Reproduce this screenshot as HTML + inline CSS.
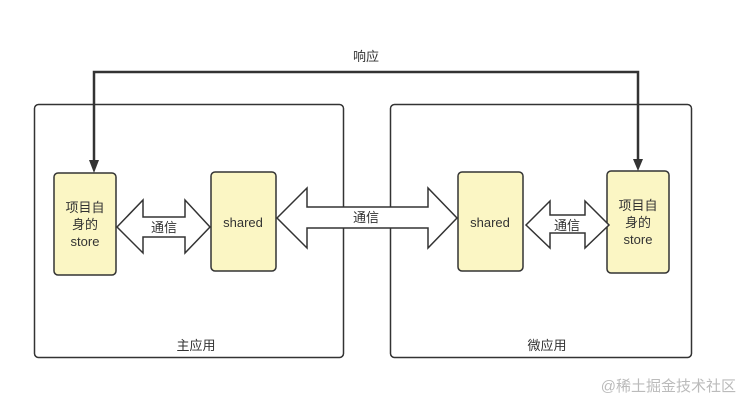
<!DOCTYPE html>
<html><head><meta charset="utf-8"><style>
body{margin:0;background:#fff;}
svg text{font-family:"Liberation Sans","Noto Sans CJK SC",sans-serif;font-size:13px;fill:#333;}
</style></head><body>
<svg width="743" height="410" viewBox="0 0 743 410" xmlns="http://www.w3.org/2000/svg">
<rect x="34.5" y="104.5" width="309" height="253" rx="4" fill="none" stroke="#333" stroke-width="1.5"/>
<rect x="390.5" y="104.5" width="301" height="253" rx="4" fill="none" stroke="#333" stroke-width="1.5"/>
<text x="196" y="350" text-anchor="middle">主应用</text>
<text x="547" y="350" text-anchor="middle">微应用</text>
<polyline points="94,163 94,72 638,72 638,161" fill="none" stroke="#333" stroke-width="2.5"/>
<polygon points="89,160 99,160 94,173" fill="#333"/>
<polygon points="633,159 643,159 638,171" fill="#333"/>
<text x="366" y="61" text-anchor="middle">响应</text>
<rect x="54" y="173" width="62" height="102" rx="4" fill="#fbf6c4" stroke="#333" stroke-width="1.5"/>
<rect x="211" y="172" width="65" height="99" rx="4" fill="#fbf6c4" stroke="#333" stroke-width="1.5"/>
<rect x="458" y="172" width="65" height="99" rx="4" fill="#fbf6c4" stroke="#333" stroke-width="1.5"/>
<rect x="607" y="171" width="62" height="102" rx="4" fill="#fbf6c4" stroke="#333" stroke-width="1.5"/>
<text x="85" y="212" text-anchor="middle">项目自</text>
<text x="85" y="229" text-anchor="middle">身的</text>
<text x="85" y="246" text-anchor="middle">store</text>
<text x="243" y="227" text-anchor="middle">shared</text>
<text x="490" y="227" text-anchor="middle">shared</text>
<text x="638" y="210" text-anchor="middle">项目自</text>
<text x="638" y="227" text-anchor="middle">身的</text>
<text x="638" y="244" text-anchor="middle">store</text>
<polygon points="117,227 143,200 143,217 185,217 185,200 210,227 185,253 185,237 143,237 143,253" fill="#fff" stroke="#333" stroke-width="1.5"/>
<text x="164" y="232" text-anchor="middle">通信</text>
<polygon points="277,218 307,188 307,207 428,207 428,188 457,218 428,248 428,228 307,228 307,248" fill="#fff" stroke="#333" stroke-width="1.5"/>
<text x="366" y="222" text-anchor="middle">通信</text>
<polygon points="526,225 550,201 550,215 585,215 585,201 609,225 585,248 585,233 550,233 550,248" fill="#fff" stroke="#333" stroke-width="1.5"/>
<text x="567" y="230" text-anchor="middle">通信</text>
<text x="736" y="391" text-anchor="end" style="font-size:15px;fill:#bbb">@稀土掘金技术社区</text>
</svg>
</body></html>
